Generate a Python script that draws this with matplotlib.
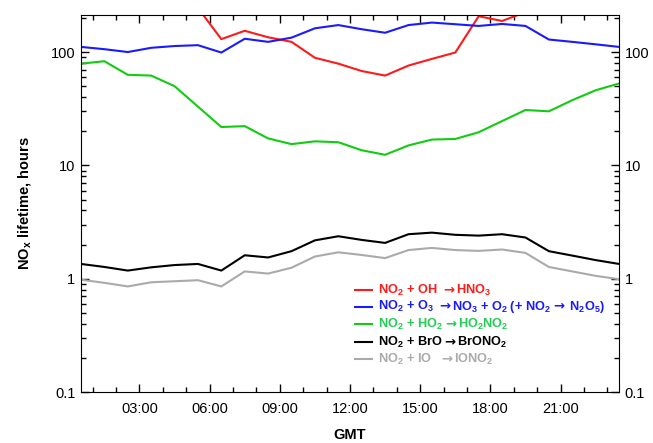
import numpy as np
import matplotlib
matplotlib.use("Agg")
import matplotlib.pyplot as plt
from matplotlib.ticker import FixedLocator, FuncFormatter, LogLocator, NullFormatter
from matplotlib.offsetbox import TextArea, HPacker, AnnotationBbox

plt.rcParams['font.family'] = ['Liberation Sans', 'DejaVu Sans']
plt.rcParams['mathtext.fontset'] = 'custom'
plt.rcParams['mathtext.rm'] = 'Liberation Sans:bold'
plt.rcParams['mathtext.bf'] = 'Liberation Sans:bold'
plt.rcParams['mathtext.it'] = 'Liberation Sans:bold'

# hours (GMT), half-hourly centred points
hours = np.arange(0.5, 24.0, 1.0)

nan = np.nan
oh = [nan, nan, nan, nan, nan, 245, 130, 154, 135, 123, 89, 79,
      68, 62, 76, 87, 99, 207, 188, 225, nan, nan, nan, nan]
o3 = [111, 106, 100, 109, 113, 115, 99, 131, 123, 134, 162, 173,
      159, 148, 173, 182, 176, 170, 177, 170, 129, 123, 117, 111]
ho2 = [79, 83, 63, 62, 50, 33, 21.8, 22.2, 17.3, 15.4, 16.3, 16.0,
       13.6, 12.4, 15.0, 16.9, 17.1, 19.6, 24.6, 30.8, 30.0, 37.6, 46, 52.8]
bro = [1.35, 1.27, 1.18, 1.26, 1.32, 1.35, 1.18, 1.61, 1.54, 1.75, 2.18, 2.37,
       2.20, 2.07, 2.47, 2.55, 2.44, 2.40, 2.47, 2.31, 1.75, 1.60, 1.46, 1.35]
io = [0.98, 0.92, 0.855, 0.93, 0.95, 0.97, 0.855, 1.16, 1.11, 1.25, 1.57, 1.71,
      1.62, 1.52, 1.79, 1.87, 1.79, 1.76, 1.81, 1.69, 1.27, 1.16, 1.06, 0.99]

series = [oh, o3, ho2, bro, io]
line_colors = ['#FF1A1A', '#1A1AFF', '#11CC11', '#000000', '#AAAAAA']
text_colors = ['#FF1A1A', '#1A1AFF', '#22CC55', '#000000', '#AAAAAA']
labels = [
    'NO$_2$ + OH  →HNO$_3$',
    'NO$_2$ + O$_3$  →NO$_3$ + O$_2$ (+ NO$_2$ → N$_2$O$_5$)',
    'NO$_2$ + HO$_2$ →HO$_2$NO$_2$',
    'NO$_2$ + BrO →BrONO$_2$',
    'NO$_2$ + IO   →IONO$_2$',
]
xticks = [3, 6, 9, 12, 15, 18, 21]
xticklabels = ['03:00', '06:00', '09:00', '12:00', '15:00', '18:00', '21:00']

fig = plt.figure(figsize=(6.53, 4.43), dpi=100)
ax = fig.add_axes([0.124, 0.115, 0.824, 0.851])

for vals, c in zip(series, line_colors):
    ax.plot(hours, vals, color=c, lw=1.5)

ax.set_yscale('log')
ax.set_ylim(0.1, 212)
ax.set_xlim(0.5, 23.5)

ax.xaxis.set_major_locator(FixedLocator(xticks))
ax.set_xticklabels(xticklabels)
ax.xaxis.set_minor_locator(FixedLocator(np.arange(1, 24)))
ax.yaxis.set_major_locator(FixedLocator([0.1, 1, 10, 100]))
ax.yaxis.set_major_formatter(FuncFormatter(lambda v, p: f'{v:g}'))
ax.yaxis.set_minor_locator(LogLocator(base=10, subs=np.arange(2, 10)))
ax.yaxis.set_minor_formatter(NullFormatter())

ax.tick_params(which='both', direction='in', top=True, right=True,
               labelright=True, labelsize=10.5, colors='black')
ax.tick_params(which='major', length=6, width=1)
ax.tick_params(which='minor', length=3.5, width=1)
ax.tick_params(axis='x', pad=7)
ax.tick_params(axis='y', pad=4)

ax.set_xlabel('GMT', fontsize=10.5, fontweight='bold', labelpad=9)
ax.set_ylabel('NO$_x$ lifetime, hours', fontsize=10.5, fontweight='bold', labelpad=13)

# custom legend: text pieces packed on a common baseline, arrows in DejaVu bold
x0, x1, xt = 355, 372, 378
ys = [290, 306.7, 324.3, 342, 359.3]
W, H = 653, 443
for lab, lc, tc, y in zip(labels, line_colors, text_colors, ys):
    fig.add_artist(plt.Line2D([x0 / W, x1 / W], [1 - y / H, 1 - y / H],
                              color=lc, lw=1.5))
    parts = lab.split('→')
    boxes = []
    for i, part in enumerate(parts):
        if i > 0:
            boxes.append(TextArea('→', textprops=dict(color=tc, fontsize=9.5,
                                                      fontweight='bold',
                                                      family='DejaVu Sans')))
        if part:
            boxes.append(TextArea(part, textprops=dict(color=tc, fontsize=9.2,
                                                       fontweight='bold')))
    pack = HPacker(children=boxes, align='baseline', pad=0, sep=1)
    ab = AnnotationBbox(pack, (xt / W, 1 - y / H), xycoords='figure fraction',
                        box_alignment=(0, 0.5), frameon=False, pad=0,
                        annotation_clip=False)
    ax.add_artist(ab)

fig.savefig('out.png', dpi=100)
